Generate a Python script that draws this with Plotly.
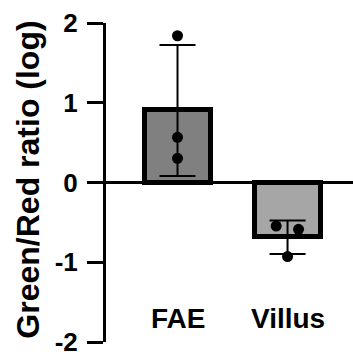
import numpy as np
import plotly.graph_objects as go

categories = ["FAE", "Villus"]
fae_points = [1.84, 0.567, 0.303]
villus_points = [-0.546, -0.5875, -0.929]
point_jitter = [[0.0, 0.0, 0.0], [-0.103, 0.1, 0.0]]
bar_colors = ["#808080", "#a6a6a6"]
y_ticks = [-2, -1, 0, 1, 2]
y_title = "Green/Red ratio (log)"

groups = [fae_points, villus_points]
means = [float(np.mean(g)) for g in groups]
sds = [float(np.std(g, ddof=1)) for g in groups]
idx = list(range(len(categories)))

fig = go.Figure()
fig.add_trace(go.Bar(
    x=idx, y=means, width=0.6,
    marker=dict(color=bar_colors, line=dict(color="black", width=5)),
    error_y=dict(type="data", array=sds, symmetric=True, color="black",
                 thickness=2, width=18),
    showlegend=False,
))
for i, g in enumerate(groups):
    fig.add_trace(go.Scatter(
        x=[i + j for j in point_jitter[i]], y=g, mode="markers",
        marker=dict(color="black", size=11),
        showlegend=False, cliponaxis=False,
    ))

font_family = "Liberation Sans, Arial, sans-serif"
annotations = []
for i, c in enumerate(categories):
    annotations.append(dict(
        x=i, y=-1.71, xref="x", yref="y", text=c, showarrow=False,
        xanchor="center", yanchor="middle",
        font=dict(family=font_family, size=28, color="black", weight="bold"),
    ))
annotations.append(dict(
    x=0, y=0.509, xref="paper", yref="paper", text=y_title, showarrow=False,
    textangle=-90, xanchor="center", yanchor="middle", xshift=-78,
    font=dict(family=font_family, size=32, color="black", weight="bold"),
))

fig.update_layout(
    width=353, height=352,
    margin=dict(l=106, r=0, t=23, b=10),
    paper_bgcolor="white", plot_bgcolor="white",
    xaxis=dict(range=[-0.65, 1.595], visible=False, fixedrange=True,
               automargin=False),
    yaxis=dict(
        range=[-2, 2], tickvals=y_ticks, ticktext=[str(t) for t in y_ticks],
        showline=True, linecolor="black", linewidth=3,
        ticks="outside", ticklen=16, tickwidth=3, tickcolor="black",
        ticklabelstandoff=4, ticklabeloverflow="allow", automargin=False,
        tickfont=dict(family=font_family, size=26, color="black", weight="bold"),
        showgrid=False, zeroline=True, zerolinecolor="black", zerolinewidth=3,
    ),
    annotations=annotations,
    bargap=0,
)

fig.write_html("out.html")
